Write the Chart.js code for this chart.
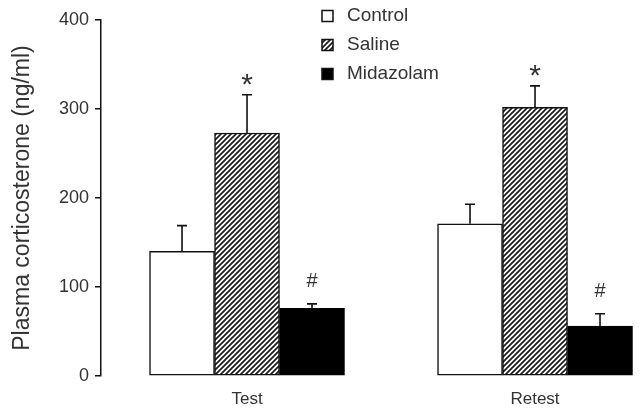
<!DOCTYPE html>
<html><head><meta charset="utf-8">
<script src="https://cdn.jsdelivr.net/npm/chart.js@4"></script>
<style>html,body{margin:0;padding:0;background:#fff}canvas{display:block}</style>
</head><body>
<canvas id="c" width="642" height="414"></canvas>
<script>
// ---- data ----
const categories = ['Test', 'Retest'];
const seriesNames = ['Control', 'Saline', 'Midazolam'];
const controlMeans = [140, 171];
const controlErr = [29, 22];
const salineMeans = [273, 302];
const salineErr = [43, 24];
const midazolamMeans = [76, 56];
const midazolamErr = [5, 14];
const controlMarks = ['', ''];
const salineMarks = ['*', '*'];
const midazolamMarks = ['#', '#'];
const yTicks = [0, 100, 200, 300, 400];
const yTitle = 'Plasma corticosterone (ng/ml)';

// ---- styles ----
const FONT = '"Liberation Sans", Arial, Helvetica, sans-serif';
const TEXT = '#333';

function makeHatch() {
  const s = 5;
  const c = document.createElement('canvas'); c.width = s; c.height = s;
  const g = c.getContext('2d');
  g.fillStyle = '#fff'; g.fillRect(0, 0, s, s);
  g.strokeStyle = '#1a1a1a'; g.lineWidth = 1.7;
  g.beginPath();
  g.moveTo(-1, s + 1); g.lineTo(s + 1, -1);
  g.moveTo(-1, 1); g.lineTo(1, -1);
  g.moveTo(s - 1, s + 1); g.lineTo(s + 1, s - 1);
  g.stroke();
  return document.getElementById('c').getContext('2d').createPattern(c, 'repeat');
}
const hatch = makeHatch();

function pts(vals) { return categories.map((c, i) => ({ x: i, y: vals[i] })); }

const datasets = [
  { label: seriesNames[0], data: pts(controlMeans), errors: controlErr, marks: controlMarks,
    backgroundColor: '#fff', borderColor: '#111', borderWidth: 1.5 },
  { label: seriesNames[1], data: pts(salineMeans), errors: salineErr, marks: salineMarks,
    backgroundColor: hatch, borderColor: '#111', borderWidth: 1.5 },
  { label: seriesNames[2], data: pts(midazolamMeans), errors: midazolamErr, marks: midazolamMarks,
    backgroundColor: '#000', borderColor: '#000', borderWidth: 1.5 }
];

const overlay = {
  id: 'overlay',
  afterDatasetsDraw(chart) {
    const ctx = chart.ctx, ys = chart.scales.y;
    ctx.save();
    chart.data.datasets.forEach((ds, di) => {
      const meta = chart.getDatasetMeta(di);
      meta.data.forEach((bar, i) => {
        const v = ds.data[i].y;
        const topPx = ys.getPixelForValue(v + ds.errors[i]);
        ctx.strokeStyle = '#111'; ctx.lineWidth = 1.6;
        ctx.beginPath();
        ctx.moveTo(bar.x, bar.y); ctx.lineTo(bar.x, topPx);
        ctx.moveTo(bar.x - 5, topPx); ctx.lineTo(bar.x + 5, topPx);
        ctx.stroke();
        const m = ds.marks[i];
        if (m) {
          ctx.fillStyle = TEXT; ctx.textAlign = 'center'; ctx.textBaseline = 'alphabetic';
          if (m === '*') { ctx.font = '30px ' + FONT; ctx.fillText(m, bar.x, topPx - 1); }
          else { ctx.font = '20px ' + FONT; ctx.fillText(m, bar.x, topPx - 17); }
        }
      });
    });
    // legend
    const bx = 322, rows = [16, 45, 74], bs = 11;
    chart.data.datasets.forEach((ds, di) => {
      const cy = rows[di];
      ctx.fillStyle = ds.backgroundColor;
      ctx.fillRect(bx, cy - bs / 2, bs, bs);
      ctx.strokeStyle = '#111'; ctx.lineWidth = 1.5;
      ctx.strokeRect(bx, cy - bs / 2, bs, bs);
      ctx.fillStyle = TEXT; ctx.font = '19px ' + FONT;
      ctx.textAlign = 'left'; ctx.textBaseline = 'middle';
      ctx.fillText(ds.label, 347, cy);
    });
    ctx.restore();
  }
};

new Chart(document.getElementById('c'), {
  type: 'bar',
  data: { datasets },
  plugins: [overlay],
  options: {
    responsive: false, animation: false, devicePixelRatio: 1,
    layout: { padding: { top: 20, right: 2, bottom: 5, left: 0 } },
    datasets: { bar: { barThickness: 65, borderSkipped: false, grouped: true } },
    plugins: { legend: { display: false }, tooltip: { enabled: false } },
    scales: {
      x: {
        type: 'linear', min: -0.507, max: 1.3645, offset: false,
        grid: { display: false, drawTicks: false },
        border: { display: false },
        afterBuildTicks(s) { s.ticks = categories.map((c, i) => ({ value: i })); },
        afterFit(s) { s.height = 33; },
        ticks: { padding: 13, color: TEXT, font: { family: FONT, size: 17 },
                 callback: (v) => categories[v] ?? '' }
      },
      y: {
        min: 0, max: 400,
        afterBuildTicks(s) { s.ticks = yTicks.map(v => ({ value: v })); },
        afterFit(s) { s.width = 101; },
        grid: { drawOnChartArea: false, drawTicks: true, tickLength: 6, color: '#111', lineWidth: 1.5 },
        border: { display: true, color: '#111', width: 1.5 },
        ticks: { padding: 6, color: TEXT, font: { family: FONT, size: 18 } },
        title: { display: true, text: yTitle, color: TEXT, padding: { top: 9, bottom: 0 },
                 font: { family: FONT, size: 23 } }
      }
    }
  }
});
</script>
</body></html>
